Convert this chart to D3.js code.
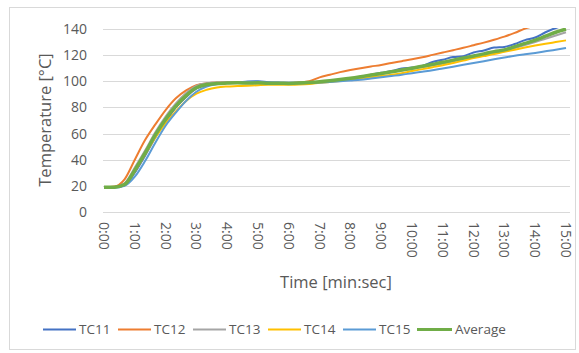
<!DOCTYPE html>
<html>
<head>
<meta charset="utf-8">
<script src="https://cdnjs.cloudflare.com/ajax/libs/d3/7.8.5/d3.min.js"></script>
<style>
  body { margin: 0; background: #fff; }
  text { font-family: "Open Sans", sans-serif; fill: #595959; }
</style>
</head>
<body>
<div id="chart"></div>
<script>
var svgWidth = 579;
var svgHeight = 353;

var margin = { top: 29, right: 13, bottom: 141, left: 104 };
var width = 566 - margin.left;
var height = 212 - margin.top;

// time in seconds, one reading every 20 s
var times = [0, 20, 40, 60, 80, 100, 120, 140, 160, 180, 200, 220, 240, 260, 280, 300,
  320, 340, 360, 380, 400, 420, 440, 460, 480, 500, 520, 540, 560, 580, 600, 620,
  640, 660, 680, 700, 720, 740, 760, 780, 800, 820, 840, 860, 880, 900];

var tickLabels = ["0:00", "1:00", "2:00", "3:00", "4:00", "5:00", "6:00", "7:00",
  "8:00", "9:00", "10:00", "11:00", "12:00", "13:00", "14:00", "15:00"];
var yTicks = [0, 20, 40, 60, 80, 100, 120, 140];

var tc11 = [19, 19, 20.5, 30, 43, 57, 69, 80, 88, 94.5, 97.5, 98.5, 99, 99.2, 99.8, 100,
  99.3, 99, 98.8, 99, 99.3, 99.5, 100.2, 101, 102, 103.5, 105, 106.5, 107.8, 109.8,
  110.5, 111.8, 114.8, 116.5, 118.5, 119.2, 122, 123.6, 125.8, 126.3, 128.5, 131.5,
  133.5, 137.5, 140.8, 143];
var tc12 = [19, 19.5, 25, 40, 55, 67, 78, 87, 93, 97, 98.5, 99, 99, 99, 98.5, 98.5,
  98.5, 98.5, 98.5, 99, 100, 103, 105, 107, 108.6, 110, 111.3, 112.5, 114, 115.4,
  116.8, 118.4, 120.2, 122, 123.8, 125.6, 127.6, 129.6, 131.8, 134.2, 137, 140.3,
  142.5, 144.5, 146.5, 148.5];
var tc13 = [19, 19, 22, 34, 47, 61, 73, 83, 91, 96.5, 98.5, 99, 99, 99, 98.8, 98.8,
  98.7, 98.6, 98.5, 98.6, 98.9, 99.5, 100.2, 101, 102, 103.2, 104.5, 105.8, 107,
  108.3, 109.6, 110.9, 112.2, 113.6, 115.3, 117, 118.8, 120.3, 121.8, 123.3, 125.5,
  127.8, 130, 132.5, 135, 137.5];
var tc14 = [19, 19, 21, 31, 44, 57, 68, 77, 85, 90.5, 93.5, 95.3, 96, 96.3, 96.6, 97,
  97.3, 97.3, 97.4, 97.6, 98, 98.8, 99.5, 100.3, 101.2, 102, 103, 104, 105, 106.2,
  107.8, 109.3, 110.8, 112.3, 114, 115.8, 117.8, 119.3, 120.8, 122.5, 124.2, 125.8,
  127.3, 128.7, 130, 131.3];
var tc15 = [18.5, 18.5, 20, 27, 39, 53, 66, 76, 85, 92, 96, 97.8, 98.5, 98.8, 99.5,
  99.6, 99, 98.8, 98.6, 98.5, 98.7, 99, 99.5, 100, 100.6, 101.2, 102.1, 103, 104, 105,
  106.2, 107.3, 108.4, 109.8, 111.2, 112.6, 114, 115.4, 116.8, 118.2, 119.5, 120.6,
  121.7, 122.9, 124.1, 125.5];
var average = [19, 19, 21, 32, 45, 59, 71, 81, 89, 95, 97.5, 98.3, 98.6, 98.8, 98.7,
  98.8, 98.5, 98.5, 98.4, 98.6, 99, 99.6, 100.4, 101.3, 102.3, 103.5, 104.8, 106,
  107.3, 108.6, 110, 111.5, 113, 114.5, 116.2, 117.8, 119.3, 121, 122.7, 124, 126.5,
  129, 131.5, 134.5, 137.5, 140];

var seriesNames = ["TC11", "TC12", "TC13", "TC14", "TC15", "Average"];
var seriesValues = [tc11, tc12, tc13, tc14, tc15, average];
var colors = ["#4472C4", "#ED7D31", "#A5A5A5", "#FFC000", "#5B9BD5", "#70AD47"];

var svg = d3.select("#chart").append("svg")
  .attr("width", svgWidth)
  .attr("height", svgHeight);

// outer chart border
svg.append("rect")
  .attr("x", 9.5)
  .attr("y", 7.5)
  .attr("width", 566)
  .attr("height", 342)
  .attr("fill", "none")
  .attr("stroke", "#D9D9D9");

var chartGroup = svg.append("g")
  .attr("transform", `translate(${margin.left}, ${margin.top})`);

var xScale = d3.scalePoint()
  .domain(times)
  .range([0, width]);

var yScale = d3.scaleLinear()
  .domain([0, 140])
  .range([height, 0]);

// gridlines
chartGroup.selectAll(".grid")
  .data(yTicks)
  .enter()
  .append("line")
  .attr("x1", -1)
  .attr("x2", width + 4)
  .attr("y1", d => Math.round(yScale(d)) + 0.5)
  .attr("y2", d => Math.round(yScale(d)) + 0.5)
  .attr("stroke", "#D9D9D9")
  .attr("stroke-width", 1);

// y axis labels
var leftAxis = d3.axisLeft(yScale).tickValues(yTicks).tickSize(0).tickPadding(17);
var yAxis = chartGroup.append("g").call(leftAxis);
yAxis.select(".domain").remove();
yAxis.selectAll("text")
  .attr("font-size", "14px")
  .attr("font-family", "Open Sans, sans-serif")
  .attr("fill", "#595959");

// x axis labels, one per minute, rotated
chartGroup.selectAll(".xlab")
  .data(tickLabels)
  .enter()
  .append("text")
  .attr("transform", (d, i) => `translate(${xScale(times[i * 3])}, ${height + 10}) rotate(90)`)
  .attr("dy", "0.35em")
  .attr("text-anchor", "start")
  .attr("font-size", "14px")
  .text(d => d);

// clip lines to plot area
chartGroup.append("clipPath")
  .attr("id", "plotClip")
  .append("rect")
  .attr("x", -2)
  .attr("y", -1)
  .attr("width", width + 6)
  .attr("height", height + 4);

var line = d3.line()
  .x((d, i) => xScale(times[i]))
  .y(d => yScale(d))
  .curve(d3.curveMonotoneX);

chartGroup.append("g")
  .attr("clip-path", "url(#plotClip)")
  .selectAll("path")
  .data(seriesValues)
  .enter()
  .append("path")
  .attr("d", d => line(d))
  .attr("fill", "none")
  .attr("stroke", (d, i) => colors[i])
  .attr("stroke-width", (d, i) => i === 5 ? 3.5 : 2)
  .attr("stroke-linejoin", "round");

// axis titles
svg.append("text")
  .attr("x", 336)
  .attr("y", 288)
  .attr("text-anchor", "middle")
  .attr("font-size", "16.5px")
  .text("Time [min:sec]");

svg.append("text")
  .attr("transform", "translate(51, 120) rotate(-90)")
  .attr("text-anchor", "middle")
  .attr("font-size", "16.5px")
  .text("Temperature [°C]");

// legend
var legendX = [43, 118, 193, 268, 343, 417];
var legend = svg.append("g").attr("transform", "translate(0, 329)");
var items = legend.selectAll("g")
  .data(seriesNames)
  .enter()
  .append("g")
  .attr("transform", (d, i) => `translate(${legendX[i]}, 0)`);

items.append("line")
  .attr("x1", 0)
  .attr("x2", (d, i) => i === 5 ? 35 : 33)
  .attr("y1", 0.5)
  .attr("y2", 0.5)
  .attr("stroke", (d, i) => colors[i])
  .attr("stroke-width", (d, i) => i === 5 ? 3 : 2);

items.append("text")
  .attr("x", (d, i) => i === 5 ? 38 : 36)
  .attr("dy", "0.35em")
  .attr("font-size", "13.5px")
  .text(d => d);
</script>
</body>
</html>
